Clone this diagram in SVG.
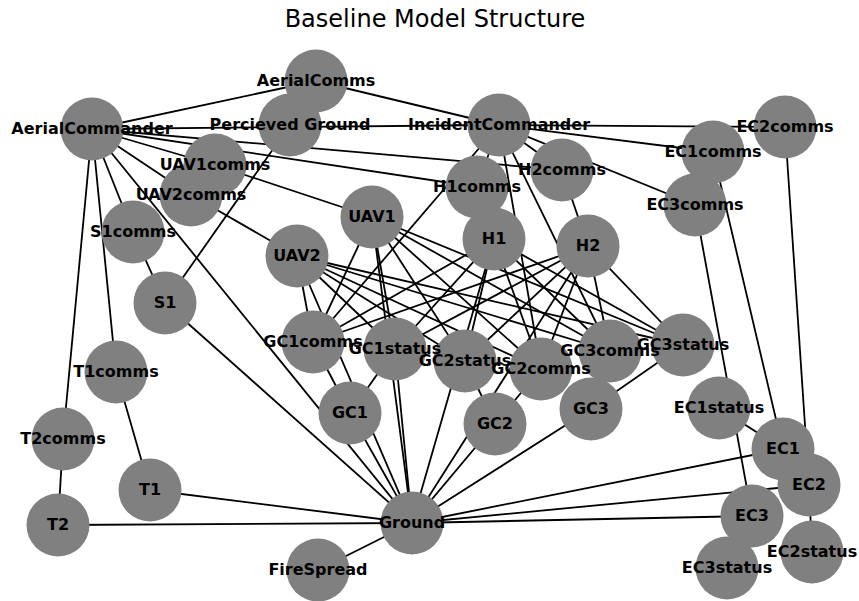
<svg xmlns="http://www.w3.org/2000/svg" width="859" height="601" viewBox="0 0 859 601">
<style>
.e{stroke:#000;stroke-width:1.8;fill:none}
.n circle{fill:#808080}
.n text{font-family:"DejaVu Sans",sans-serif;font-weight:bold;font-size:16px;fill:#000;text-anchor:middle}
.t{font-family:"DejaVu Sans",sans-serif;font-size:24px;fill:#000;text-anchor:middle}
</style>
<rect width="859" height="601" fill="#fff"/>
<text class="t" x="435" y="27">Baseline Model Structure</text>
<g id="edges">
<!-- AerialCommander -->
<line class="e" x1="92" y1="129" x2="316" y2="81"/>
<line class="e" x1="92" y1="129" x2="499" y2="125"/>
<line class="e" x1="92" y1="129" x2="562" y2="170"/>
<line class="e" x1="92" y1="129" x2="477" y2="187"/>
<line class="e" x1="92" y1="129" x2="215" y2="165"/>
<line class="e" x1="92" y1="129" x2="191" y2="195"/>
<line class="e" x1="92" y1="129" x2="133" y2="232"/>
<line class="e" x1="92" y1="129" x2="412" y2="523"/>
<line class="e" x1="92" y1="129" x2="116" y2="372"/>
<line class="e" x1="92" y1="129" x2="63" y2="439"/>
<line class="e" x1="215" y1="165" x2="372" y2="217"/>
<line class="e" x1="191" y1="195" x2="297" y2="256"/>
<!-- AerialComms / IC -->
<line class="e" x1="316" y1="81" x2="499" y2="125"/>
<line class="e" x1="499" y1="125" x2="785" y2="127"/>
<line class="e" x1="499" y1="125" x2="713" y2="152"/>
<line class="e" x1="499" y1="125" x2="695" y2="205"/>
<line class="e" x1="499" y1="125" x2="562" y2="170"/>
<line class="e" x1="499" y1="125" x2="477" y2="187"/>
<line class="e" x1="499" y1="125" x2="313" y2="342"/>
<line class="e" x1="499" y1="125" x2="541" y2="369"/>
<line class="e" x1="499" y1="125" x2="610" y2="351"/>
<line class="e" x1="477" y1="187" x2="494" y2="239"/>
<line class="e" x1="562" y1="170" x2="588" y2="246"/>
<!-- S1 -->
<line class="e" x1="133" y1="232" x2="165" y2="303"/>
<line class="e" x1="290" y1="125" x2="165" y2="303"/>
<line class="e" x1="165" y1="303" x2="412" y2="523"/>
<!-- UAV1 -->
<line class="e" x1="372" y1="217" x2="313" y2="342"/>
<line class="e" x1="372" y1="217" x2="395" y2="349"/>
<line class="e" x1="372" y1="217" x2="465" y2="361"/>
<line class="e" x1="372" y1="217" x2="541" y2="369"/>
<line class="e" x1="372" y1="217" x2="610" y2="351"/>
<line class="e" x1="372" y1="217" x2="683" y2="345"/>
<line class="e" x1="372" y1="217" x2="412" y2="523"/>
<!-- UAV2 -->
<line class="e" x1="297" y1="256" x2="313" y2="342"/>
<line class="e" x1="297" y1="256" x2="395" y2="349"/>
<line class="e" x1="297" y1="256" x2="465" y2="361"/>
<line class="e" x1="297" y1="256" x2="541" y2="369"/>
<line class="e" x1="297" y1="256" x2="610" y2="351"/>
<line class="e" x1="297" y1="256" x2="683" y2="345"/>
<line class="e" x1="297" y1="256" x2="412" y2="523"/>
<!-- H1 -->
<line class="e" x1="494" y1="239" x2="313" y2="342"/>
<line class="e" x1="494" y1="239" x2="395" y2="349"/>
<line class="e" x1="494" y1="239" x2="465" y2="361"/>
<line class="e" x1="494" y1="239" x2="541" y2="369"/>
<line class="e" x1="494" y1="239" x2="610" y2="351"/>
<line class="e" x1="494" y1="239" x2="683" y2="345"/>
<line class="e" x1="494" y1="239" x2="412" y2="523"/>
<!-- H2 -->
<line class="e" x1="588" y1="246" x2="313" y2="342"/>
<line class="e" x1="588" y1="246" x2="395" y2="349"/>
<line class="e" x1="588" y1="246" x2="465" y2="361"/>
<line class="e" x1="588" y1="246" x2="541" y2="369"/>
<line class="e" x1="588" y1="246" x2="610" y2="351"/>
<line class="e" x1="588" y1="246" x2="683" y2="345"/>
<line class="e" x1="588" y1="246" x2="412" y2="523"/>
<!-- GC -->
<line class="e" x1="313" y1="342" x2="350" y2="413"/>
<line class="e" x1="395" y1="349" x2="350" y2="413"/>
<line class="e" x1="350" y1="413" x2="412" y2="523"/>
<line class="e" x1="395" y1="349" x2="412" y2="523"/>
<line class="e" x1="465" y1="361" x2="495" y2="424"/>
<line class="e" x1="541" y1="369" x2="495" y2="424"/>
<line class="e" x1="495" y1="424" x2="412" y2="523"/>
<line class="e" x1="610" y1="351" x2="591" y2="409"/>
<line class="e" x1="683" y1="345" x2="591" y2="409"/>
<line class="e" x1="591" y1="409" x2="412" y2="523"/>
<!-- EC -->
<line class="e" x1="713" y1="152" x2="783" y2="449"/>
<line class="e" x1="785" y1="127" x2="809" y2="485"/>
<line class="e" x1="695" y1="205" x2="752" y2="516"/>
<line class="e" x1="719" y1="408" x2="783" y2="449"/>
<line class="e" x1="809" y1="485" x2="812" y2="552"/>
<line class="e" x1="752" y1="516" x2="727" y2="568"/>
<line class="e" x1="783" y1="449" x2="412" y2="523"/>
<line class="e" x1="809" y1="485" x2="412" y2="523"/>
<line class="e" x1="752" y1="516" x2="412" y2="523"/>
<!-- T -->
<line class="e" x1="116" y1="372" x2="150" y2="490"/>
<line class="e" x1="63" y1="439" x2="58" y2="525"/>
<line class="e" x1="150" y1="490" x2="412" y2="523"/>
<line class="e" x1="58" y1="525" x2="412" y2="523"/>
<line class="e" x1="412" y1="523" x2="318" y2="570"/>
</g>
<g id="n-AerialComms" class="n"><circle cx="316" cy="81" r="31.5"/></g>
<g id="n-AerialCommander" class="n"><circle cx="92" cy="129" r="31.5"/></g>
<g id="n-PercievedGround" class="n"><circle cx="290" cy="125" r="31.5"/></g>
<g id="n-IncidentCommander" class="n"><circle cx="499" cy="125" r="31.5"/></g>
<g id="n-EC2comms" class="n"><circle cx="785" cy="127" r="31.5"/></g>
<g id="n-EC1comms" class="n"><circle cx="713" cy="152" r="31.5"/></g>
<g id="n-UAV1comms" class="n"><circle cx="215" cy="165" r="31.5"/></g>
<g id="n-UAV2comms" class="n"><circle cx="191" cy="195" r="31.5"/></g>
<g id="n-H2comms" class="n"><circle cx="562" cy="170" r="31.5"/></g>
<g id="n-H1comms" class="n"><circle cx="477" cy="187" r="31.5"/></g>
<g id="n-EC3comms" class="n"><circle cx="695" cy="205" r="31.5"/></g>
<g id="n-S1comms" class="n"><circle cx="133" cy="232" r="31.5"/></g>
<g id="n-UAV1" class="n"><circle cx="372" cy="217" r="31.5"/></g>
<g id="n-H1" class="n"><circle cx="494" cy="239" r="31.5"/></g>
<g id="n-H2" class="n"><circle cx="588" cy="246" r="31.5"/></g>
<g id="n-UAV2" class="n"><circle cx="297" cy="256" r="31.5"/></g>
<g id="n-S1" class="n"><circle cx="165" cy="303" r="31.5"/></g>
<g id="n-GC1comms" class="n"><circle cx="313" cy="342" r="31.5"/></g>
<g id="n-GC1status" class="n"><circle cx="395" cy="349" r="31.5"/></g>
<g id="n-GC2status" class="n"><circle cx="465" cy="361" r="31.5"/></g>
<g id="n-GC2comms" class="n"><circle cx="541" cy="369" r="31.5"/></g>
<g id="n-GC3comms" class="n"><circle cx="610" cy="351" r="31.5"/></g>
<g id="n-GC3status" class="n"><circle cx="683" cy="345" r="31.5"/></g>
<g id="n-T1comms" class="n"><circle cx="116" cy="372" r="31.5"/></g>
<g id="n-EC1status" class="n"><circle cx="719" cy="408" r="31.5"/></g>
<g id="n-GC1" class="n"><circle cx="350" cy="413" r="31.5"/></g>
<g id="n-GC3" class="n"><circle cx="591" cy="409" r="31.5"/></g>
<g id="n-GC2" class="n"><circle cx="495" cy="424" r="31.5"/></g>
<g id="n-T2comms" class="n"><circle cx="63" cy="439" r="31.5"/></g>
<g id="n-EC1" class="n"><circle cx="783" cy="449" r="31.5"/></g>
<g id="n-EC2" class="n"><circle cx="809" cy="485" r="31.5"/></g>
<g id="n-T1" class="n"><circle cx="150" cy="490" r="31.5"/></g>
<g id="n-Ground" class="n"><circle cx="412" cy="523" r="31.5"/></g>
<g id="n-EC3" class="n"><circle cx="752" cy="516" r="31.5"/></g>
<g id="n-T2" class="n"><circle cx="58" cy="525" r="31.5"/></g>
<g id="n-EC2status" class="n"><circle cx="812" cy="552" r="31.5"/></g>
<g id="n-FireSpread" class="n"><circle cx="318" cy="570" r="31.5"/></g>
<g id="n-EC3status" class="n"><circle cx="727" cy="568" r="31.5"/></g>
<g id="labels" class="n">
<text x="316" y="86">AerialComms</text>
<text x="92" y="134">AerialCommander</text>
<text x="290" y="130">Percieved Ground</text>
<text x="499" y="130">IncidentCommander</text>
<text x="785" y="132">EC2comms</text>
<text x="713" y="157">EC1comms</text>
<text x="215" y="170">UAV1comms</text>
<text x="191" y="200">UAV2comms</text>
<text x="562" y="175">H2comms</text>
<text x="477" y="192">H1comms</text>
<text x="695" y="210">EC3comms</text>
<text x="133" y="237">S1comms</text>
<text x="372" y="222">UAV1</text>
<text x="494" y="244">H1</text>
<text x="588" y="251">H2</text>
<text x="297" y="261">UAV2</text>
<text x="165" y="308">S1</text>
<text x="313" y="347">GC1comms</text>
<text x="395" y="354">GC1status</text>
<text x="465" y="366">GC2status</text>
<text x="541" y="374">GC2comms</text>
<text x="610" y="356">GC3comms</text>
<text x="683" y="350">GC3status</text>
<text x="116" y="377">T1comms</text>
<text x="719" y="413">EC1status</text>
<text x="350" y="418">GC1</text>
<text x="591" y="414">GC3</text>
<text x="495" y="429">GC2</text>
<text x="63" y="444">T2comms</text>
<text x="783" y="454">EC1</text>
<text x="809" y="490">EC2</text>
<text x="150" y="495">T1</text>
<text x="412" y="528">Ground</text>
<text x="752" y="521">EC3</text>
<text x="58" y="530">T2</text>
<text x="812" y="557">EC2status</text>
<text x="318" y="575">FireSpread</text>
<text x="727" y="573">EC3status</text>
</g>
</svg>
